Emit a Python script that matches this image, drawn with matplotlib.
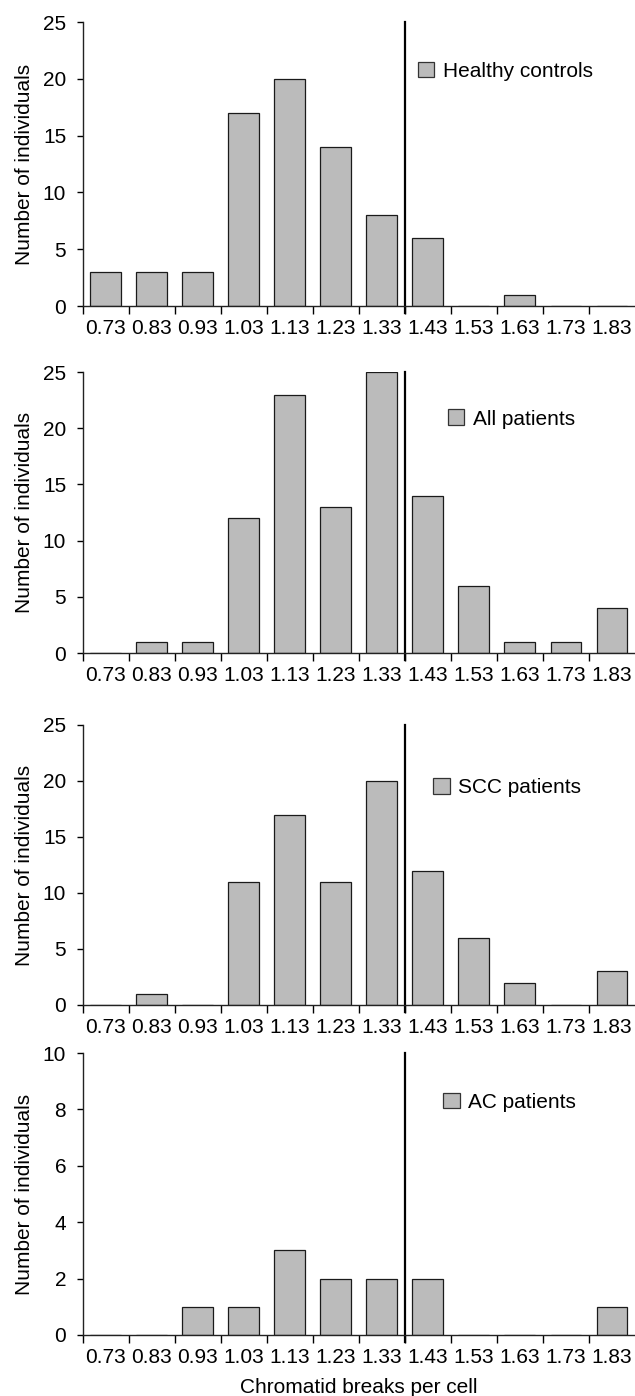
import numpy as np
import matplotlib
matplotlib.use('Agg')
import matplotlib.pyplot as plt
from matplotlib.patches import Patch

plt.rcParams['font.family'] = ['Liberation Sans', 'DejaVu Sans']

#Bin labels (chromatid breaks per cell) shared by all panels.
bins = ['0.73', '0.83', '0.93', '1.03', '1.13', '1.23', '1.33',
        '1.43', '1.53', '1.63', '1.73', '1.83']

healthy = [3, 3, 3, 17, 20, 14, 8, 6, 0, 1, 0, 0]
all_patients = [0, 1, 1, 12, 23, 13, 25, 14, 6, 1, 1, 4]
scc = [0, 1, 0, 11, 17, 11, 20, 12, 6, 2, 0, 3]
ac = [0, 0, 1, 1, 3, 2, 2, 2, 0, 0, 0, 1]

series = [healthy, all_patients, scc, ac]
labels = ['Healthy controls', 'All patients', 'SCC patients', 'AC patients']
ymax = [25, 25, 25, 10]
ystep = [5, 5, 5, 2]
cutoff = 6.5  #Between 1.33 and 1.43.

#Axes placement, in figure fractions (bottom, top).
rows = [(0.7808, 0.9842), (0.5322, 0.7335), (0.2801, 0.4807), (0.0437, 0.2457)]
legend_pos = [(0.607, 0.827), (0.661, 0.833), (0.635, 0.775), (0.653, 0.825)]

fig = plt.figure(figsize=(6.35, 13.96), dpi=100)
x = np.arange(len(bins))
fs = 15
for i in range(4):
	b, t = rows[i]
	ax = fig.add_axes([0.13, b, 0.87, t - b])
	ax.bar(x, series[i], width=0.67, color='#bbbbbb', edgecolor='#1a1a1a', linewidth=0.9)
	ax.set_xlim(-0.5, 11.5)
	ax.set_ylim(0, ymax[i])
	ax.set_yticks(np.arange(0, ymax[i] + 1, ystep[i]))
	ax.set_xticks(np.arange(-0.5, 11, 1.0))
	ax.set_xticklabels([])
	ax.set_xticks(x, minor=True)
	ax.set_xticklabels(bins, minor=True)
	ax.tick_params(axis='x', which='major', length=5.8, width=1, direction='out')
	ax.tick_params(axis='x', which='minor', length=0, pad=9.5, labelsize=fs)
	ax.tick_params(axis='y', length=4.3, width=1, pad=7.5, labelsize=fs)
	for s in ['top', 'right']:
		ax.spines[s].set_visible(False)
	for s in ['left', 'bottom']:
		ax.spines[s].set_linewidth(1.0)
		ax.spines[s].set_color('#222222')
	ax.plot([cutoff, cutoff], [-0.025 * ymax[i], ymax[i]], color='black', lw=1.6, clip_on=False)
	ax.set_ylabel('Number of individuals', fontsize=fs, labelpad=6)
	h = Patch(facecolor='#bbbbbb', edgecolor='#333333', linewidth=0.9)
	ax.legend([h], [labels[i]], loc='center left', bbox_to_anchor=legend_pos[i], frameon=False,
		fontsize=fs, handlelength=0.78, handleheight=0.78, handletextpad=0.42,
		borderpad=0, borderaxespad=0)

fig.text(0.565, 0.0025, 'Chromatid breaks per cell', ha='center', va='baseline', fontsize=fs)
fig.savefig('out.png', dpi=100)
